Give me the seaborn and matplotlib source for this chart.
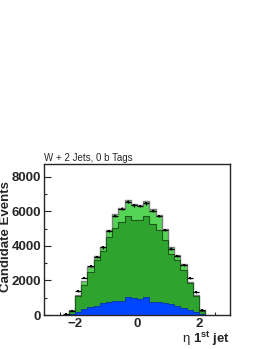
import numpy as np
import pandas as pd
import matplotlib
matplotlib.use("Agg")
import matplotlib.pyplot as plt
import seaborn as sns
from matplotlib.ticker import MultipleLocator

# bin centres in eta of the leading jet (bin width 0.2)
eta = [-2.1, -1.9, -1.7, -1.5, -1.3, -1.1, -0.9, -0.7, -0.5, -0.3, -0.1,
       0.1, 0.3, 0.5, 0.7, 0.9, 1.1, 1.3, 1.5, 1.7, 1.9, 2.1]
# stacked predictions, cumulative tops
blue_top = [70, 200, 340, 440, 530, 700, 770, 790, 820, 1030, 970,
            930, 1020, 740, 770, 670, 620, 520, 420, 280, 180, 60]
dark_top = [250, 1100, 1760, 2510, 3180, 3720, 4500, 5030, 5380, 5720, 5500,
            5490, 5720, 5280, 4950, 4350, 3560, 3180, 2600, 1840, 1100, 250]
total = [290, 1180, 1950, 2790, 3440, 3930, 4930, 5820, 6170, 6650, 6400,
         6370, 6630, 6150, 5780, 4960, 3950, 3450, 2950, 1930, 1180, 290]
# data points
data_x = [-2.3] + eta
data_y = [30, 230, 1380, 2170, 2850, 3370, 3910, 4880, 5730, 6150, 6570, 6360,
          6310, 6460, 6040, 5730, 4920, 3850, 3420, 2880, 2120, 1310, 270]

edges = [round(-2.2 + 0.2 * i, 2) for i in range(23)]

sns.set_style("ticks")
plt.rcParams["font.family"] = ["Liberation Sans", "DejaVu Sans"]
plt.rcParams["mathtext.fontset"] = "custom"
plt.rcParams["mathtext.bf"] = "Liberation Sans:bold"
plt.rcParams["mathtext.rm"] = "Liberation Sans"

fig = plt.figure(figsize=(2.7, 3.49), dpi=100)
ax = fig.add_axes([0.163, 0.0974, 0.689, 0.433])

df = pd.DataFrame({"eta": eta, "total": total, "dark": dark_top, "blue": blue_top})
sns.histplot(data=df, x="eta", weights="total", bins=edges, element="step",
             fill=True, color="#55d455", alpha=1, edgecolor="#808080",
             linewidth=1.0, ax=ax)
sns.histplot(data=df, x="eta", weights="dark", bins=edges, element="step",
             fill=True, color="#2ea42e", alpha=1, edgecolor="#1e5a1e",
             linewidth=0.8, ax=ax)
sns.histplot(data=df, x="eta", weights="blue", bins=edges, element="step",
             fill=True, color="#0045ff", alpha=1, edgecolor="#0030b0",
             linewidth=0.6, ax=ax)

yerr = np.sqrt(np.array(data_y, dtype=float))
ax.errorbar(data_x, data_y, xerr=0.1, yerr=yerr, fmt="s", color="black",
            markersize=2.0, markeredgewidth=0, elinewidth=0.9, capsize=0,
            zorder=5)

ax.set_xlim(-3, 3)
ax.set_ylim(0, 8750)
ax.xaxis.set_major_locator(MultipleLocator(2))
ax.xaxis.set_minor_locator(MultipleLocator(0.5))
ax.yaxis.set_major_locator(MultipleLocator(2000))
ax.yaxis.set_minor_locator(MultipleLocator(1000))
ax.tick_params(which="both", direction="in", top=False, right=False, pad=2)
ax.tick_params(which="major", length=5, width=0.8, labelsize=9.5)
ax.tick_params(which="minor", length=2.5, width=0.8)
for lab in ax.get_xticklabels() + ax.get_yticklabels():
    lab.set_fontweight("bold")
for s in ax.spines.values():
    s.set_linewidth(1.0)
    s.set_visible(True)

ax.set_ylabel("Candidate Events", fontsize=9.5, fontweight="bold")
ax.yaxis.set_label_coords(-0.17, 0.517)
ax.set_xlabel(r"$\mathrm{η}$ $\mathbf{1^{st}}$ jet", fontsize=9.5, fontweight="bold")
ax.xaxis.set_label_coords(1.0, -0.1)
ax.xaxis.label.set_horizontalalignment("right")
ax.set_title("W + 2 Jets, 0 b Tags", fontsize=7, loc="left", pad=2)

fig.savefig("out.png", dpi=100)
